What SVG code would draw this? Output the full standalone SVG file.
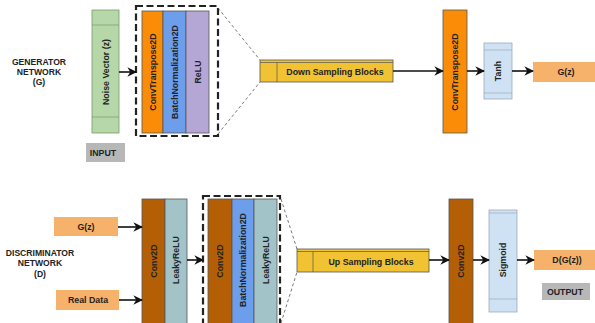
<svg xmlns="http://www.w3.org/2000/svg" width="595" height="323" viewBox="0 0 595 323">
<defs>
<marker id="ah" viewBox="0 0 10 10" refX="9" refY="5" markerWidth="6" markerHeight="6" orient="auto" markerUnits="strokeWidth">
<path d="M0,0 L10,5 L0,10 L3,5 Z" fill="#111"/>
</marker>
</defs>
<style>
text{font-family:"Liberation Sans",Arial,sans-serif;font-weight:bold;font-size:8.8px;fill:#222;text-anchor:middle;dominant-baseline:central}
.t{font-size:8.6px;dominant-baseline:auto}
.b{stroke:#555;stroke-width:0.8}
.l{stroke:#555;stroke-width:0.7;fill:none}
.dash{fill:none;stroke:#222;stroke-width:2.2;stroke-dasharray:7,3.5}
.thin{fill:none;stroke:#555;stroke-width:0.8;stroke-dasharray:3,2.5}
.arr{stroke:#111;stroke-width:1.6;fill:none;marker-end:url(#ah)}
.green{fill:#b6d7a8}
.orange{fill:#fb8c08}
.blue{fill:#6d9eeb}
.purple{fill:#b4a7d6}
.yellow{fill:#f1c232}
.lblue{fill:#cfe2f3}
.salmon{fill:#f6b26b}
.grey{fill:#b7b7b7}
.brown{fill:#b45f06}
.teal{fill:#a2c4c9}
</style>

<g id="gen-title">
<text class="t" x="39" y="65">GENERATOR</text>
<text class="t" x="39" y="75">NETWORK</text>
<text class="t" x="39" y="85">(G)</text>
</g>

<g id="noise-vector">
<rect class="green b" x="92" y="10" width="27" height="123" style="stroke:#7a9a6c"/>
<line class="l" x1="92" y1="25" x2="119" y2="25" style="stroke:#7a9a6c"/>
<line class="l" x1="92" y1="117" x2="119" y2="117" style="stroke:#7a9a6c"/>
<text transform="translate(105.5,72) rotate(-90)">Noise Vector (z)</text>
</g>

<g id="input-label">
<rect class="grey" x="86" y="143" width="39" height="19"/>
<text x="103" y="152.5">INPUT</text>
</g>

<g id="gen-block">
<rect class="dash" x="136" y="6" width="82" height="130"/>
<rect class="orange b" x="142" y="11" width="21" height="122"/>
<text transform="translate(152.5,72) rotate(-90)">ConvTranspose2D</text>
<rect class="blue b" x="163" y="11" width="23" height="122"/>
<text transform="translate(174.5,72) rotate(-90)">BatchNormalization2D</text>
<rect class="purple b" x="186" y="11" width="23" height="122"/>
<text transform="translate(197.5,72) rotate(-90)">ReLU</text>
</g>

<g id="down-sampling">
<rect class="yellow b" x="260" y="60" width="133" height="22"/>
<line class="l" x1="260" y1="62.5" x2="393" y2="62.5"/>
<line class="l" x1="277" y1="62.5" x2="277" y2="82"/>
<text x="335" y="72">Down Sampling Blocks</text>
</g>

<g id="gen-convt">
<rect class="orange b" x="443" y="10" width="24" height="123"/>
<text transform="translate(455,72) rotate(-90)">ConvTranspose2D</text>
</g>

<g id="tanh">
<rect class="lblue" x="484" y="43" width="28" height="56" style="stroke:#9ab;stroke-width:0.8"/>
<line class="l" x1="484" y1="50" x2="512" y2="50" style="stroke:#9ab"/>
<line class="l" x1="484" y1="93" x2="512" y2="93" style="stroke:#9ab"/>
<text transform="translate(498,71) rotate(-90)">Tanh</text>
</g>

<g id="gz-out">
<rect class="salmon" x="533" y="62" width="66" height="20"/>
<text x="566" y="72">G(z)</text>
</g>

<g id="disc-title">
<text class="t" x="40" y="256">DISCRIMINATOR</text>
<text class="t" x="40" y="266">NETWORK</text>
<text class="t" x="40" y="277">(D)</text>
</g>

<g id="gz-in">
<rect class="salmon" x="54" y="217" width="64" height="19"/>
<text x="86" y="226.5">G(z)</text>
</g>

<g id="real-data">
<rect class="salmon" x="56" y="290" width="63" height="20"/>
<text x="88" y="300">Real Data</text>
</g>

<g id="disc-first">
<rect class="brown b" x="142" y="199" width="23" height="126"/>
<text transform="translate(153.5,261) rotate(-90)">Conv2D</text>
<rect class="teal b" x="165" y="199" width="22" height="126"/>
<text transform="translate(176,260) rotate(-90)">LeakyReLU</text>
</g>

<g id="disc-block">
<rect class="dash" x="203" y="196" width="77" height="140"/>
<rect class="brown b" x="208" y="199" width="24" height="126"/>
<text transform="translate(220,261) rotate(-90)">Conv2D</text>
<rect class="blue b" x="232" y="199" width="22" height="126"/>
<text transform="translate(243,260) rotate(-90)">BatchNormalization2D</text>
<rect class="teal b" x="254" y="199" width="23" height="126"/>
<text transform="translate(265.5,260) rotate(-90)">LeakyReLU</text>
</g>

<g id="up-sampling">
<rect class="yellow b" x="297" y="249" width="132" height="23"/>
<line class="l" x1="297" y1="251.5" x2="429" y2="251.5"/>
<line class="l" x1="313" y1="251.5" x2="313" y2="272"/>
<text x="371" y="262">Up Sampling Blocks</text>
</g>

<g id="disc-conv">
<rect class="brown b" x="449" y="199" width="24" height="126"/>
<text transform="translate(461,261) rotate(-90)">Conv2D</text>
</g>

<g id="sigmoid">
<rect class="lblue" x="489" y="210" width="28" height="102" style="stroke:#9ab;stroke-width:0.8"/>
<line class="l" x1="489" y1="213" x2="517" y2="213" style="stroke:#9ab"/>
<line class="l" x1="489" y1="299" x2="517" y2="299" style="stroke:#9ab"/>
<text transform="translate(503,260) rotate(-90)">Sigmoid</text>
</g>

<g id="dgz">
<rect class="salmon" x="534" y="250" width="66" height="20"/>
<text x="567" y="260">D(G(z))</text>
</g>

<g id="output-label">
<rect class="grey" x="542" y="283" width="48" height="17"/>
<text x="565" y="291.5">OUTPUT</text>
</g>

<g id="connectors">
<line class="thin" x1="218" y1="8" x2="260" y2="60"/>
<line class="thin" x1="218" y1="134" x2="260" y2="82"/>
<line class="thin" x1="281" y1="199" x2="297" y2="249"/>
<line class="thin" x1="281" y1="323" x2="297" y2="272"/>
<line class="arr" x1="119" y1="72" x2="136" y2="72"/>
<line class="arr" x1="393" y1="71" x2="443" y2="71"/>
<line class="arr" x1="467" y1="71" x2="484" y2="71"/>
<line class="arr" x1="512" y1="71" x2="533" y2="71"/>
<line class="arr" x1="118" y1="227" x2="142" y2="227"/>
<line class="arr" x1="119" y1="300" x2="142" y2="300"/>
<line class="arr" x1="187" y1="260" x2="203" y2="260"/>
<line class="arr" x1="429" y1="260" x2="449" y2="260"/>
<line class="arr" x1="473" y1="260" x2="489" y2="260"/>
<line class="arr" x1="517" y1="260" x2="534" y2="260"/>
</g>
</svg>
